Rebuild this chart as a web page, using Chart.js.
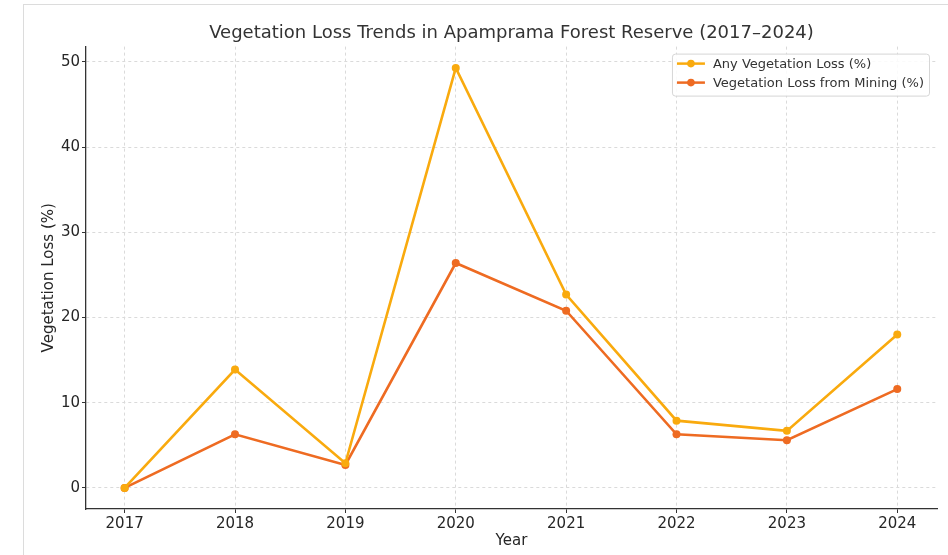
<!DOCTYPE html>
<html>
<head>
<meta charset="utf-8">
<script src="https://cdn.jsdelivr.net/npm/chart.js@4"></script>
<style>
  html, body { margin: 0; padding: 0; background: #fff; }
  body { width: 948px; height: 555px; position: relative; overflow: hidden; }
  .frame { position: absolute; left: 23px; top: 4px; width: 960px; height: 600px;
           border-left: 1px solid #dcdcdc; border-top: 1px solid #dcdcdc; }
  .wrap { position: absolute; left: 0; top: 0; width: 948px; height: 555px; }
</style>
</head>
<body>
<div class="frame"></div>
<div class="wrap"><canvas id="chart"></canvas></div>
<script>
/* data */
const years = [2017, 2018, 2019, 2020, 2021, 2022, 2023, 2024];
const anyLoss = [0, 13.9, 2.9, 49.3, 22.7, 7.9, 6.7, 18.0];
const miningLoss = [0, 6.3, 2.7, 26.4, 20.8, 6.3, 5.6, 11.6];
const yTicks = [0, 10, 20, 30, 40, 50];

const FONT = "'DejaVu Sans', sans-serif";
const INK = '#262626';

function pts(vals) { return years.map((y, i) => ({ x: y, y: vals[i] })); }

/* matplotlib-style legend box in the upper right of the plot */
const boxLegend = {
  id: 'boxLegend',
  afterDatasetsDraw(chart) {
    const { ctx, chartArea } = chart;
    const sets = chart.data.datasets;
    ctx.save();
    ctx.font = '13px ' + FONT;
    const w = Math.max(...sets.map(d => ctx.measureText(d.label).width)) + 46;
    const rowH = 19, h = sets.length * rowH + 4;
    const x0 = chartArea.right - 8 - w, y0 = chartArea.top + 7;
    ctx.fillStyle = 'rgba(255,255,255,0.85)';
    ctx.strokeStyle = '#d6d6d6';
    ctx.lineWidth = 1;
    ctx.beginPath();
    ctx.roundRect(x0 + 0.5, y0 + 0.5, w, h, 3);
    ctx.fill(); ctx.stroke();
    sets.forEach((d, i) => {
      const cy = y0 + 10 + i * rowH;
      ctx.strokeStyle = d.borderColor;
      ctx.lineWidth = 2.5;
      ctx.beginPath(); ctx.moveTo(x0 + 5, cy); ctx.lineTo(x0 + 33, cy); ctx.stroke();
      ctx.fillStyle = d.borderColor;
      ctx.beginPath(); ctx.arc(x0 + 19, cy, 3.8, 0, Math.PI * 2); ctx.fill();
      ctx.fillStyle = '#333';
      ctx.textBaseline = 'middle';
      ctx.fillText(d.label, x0 + 41, cy + 1);
    });
    ctx.restore();
  }
};

new Chart(document.getElementById('chart'), {
  type: 'line',
  data: {
    datasets: [
      { label: 'Any Vegetation Loss (%)', data: pts(anyLoss), borderColor: '#F9AA0E', backgroundColor: '#F9AA0E',
        borderWidth: 2.6, pointRadius: 4, pointHoverRadius: 4, pointBorderWidth: 0, pointBackgroundColor: '#F9AA0E' },
      { label: 'Vegetation Loss from Mining (%)', data: pts(miningLoss), borderColor: '#EE6B22', backgroundColor: '#EE6B22',
        borderWidth: 2.6, pointRadius: 4, pointHoverRadius: 4, pointBorderWidth: 0, pointBackgroundColor: '#EE6B22' }
    ]
  },
  options: {
    responsive: true, maintainAspectRatio: false, animation: false,
    layout: { padding: { left: 40, right: 11, top: 10, bottom: 0 } },
    plugins: {
      legend: { display: false },
      tooltip: { enabled: false },
      title: {
        display: true, fullSize: false,
        text: 'Vegetation Loss Trends in Apamprama Forest Reserve (2017–2024)',
        color: '#333', font: { family: FONT, size: 18, weight: 'normal' },
        padding: { top: 13, bottom: 2 }
      }
    },
    scales: {
      x: {
        type: 'linear', min: 2016.65, max: 2024.36,
        afterBuildTicks: s => { s.ticks = years.map(v => ({ value: v })); },
        afterFit: s => { s.height = 46; },
        ticks: { color: INK, font: { family: FONT, size: 15 }, padding: 2, maxRotation: 0, callback: v => String(v) },
        grid: { color: '#dadada', lineWidth: 1, tickColor: '#333', tickLength: 4, tickWidth: 1 },
        border: { color: '#333', width: 1.3, dash: [3, 3] },
        title: { display: true, text: 'Year', color: INK, font: { family: FONT, size: 15 }, padding: { top: 0, bottom: 5 } }
      },
      y: {
        min: -2.47, max: 51.8,
        afterBuildTicks: s => { s.ticks = yTicks.map(v => ({ value: v })); },
        afterFit: s => { s.width = 46; },
        ticks: { color: INK, font: { family: FONT, size: 15 }, padding: 2 },
        grid: { color: '#dadada', lineWidth: 1, tickColor: '#333', tickLength: 4, tickWidth: 1 },
        border: { color: '#333', width: 1.3, dash: [3, 3] },
        title: { display: true, text: 'Vegetation Loss (%)', color: INK, font: { family: FONT, size: 15 }, padding: { top: 0, bottom: 4 } }
      }
    }
  },
  plugins: [boxLegend]
});
</script>
</body>
</html>
